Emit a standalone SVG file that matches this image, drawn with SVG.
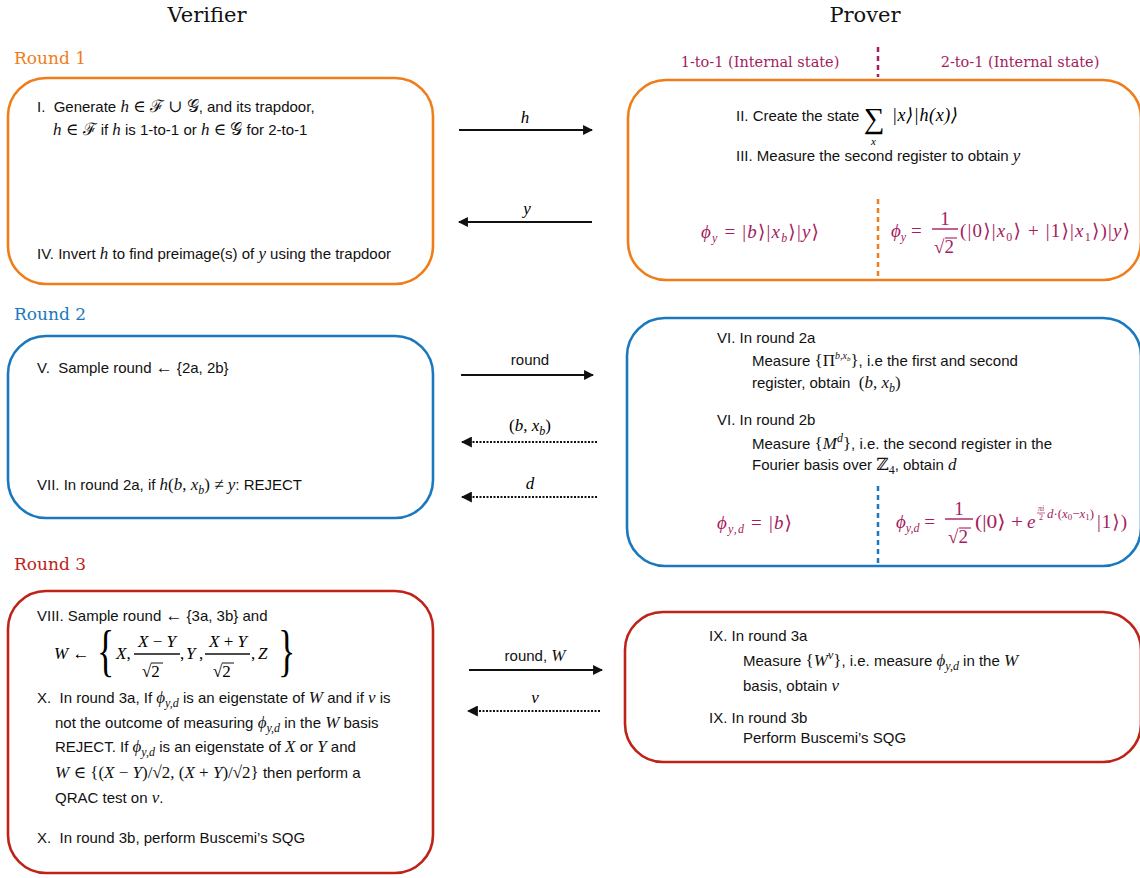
<svg xmlns="http://www.w3.org/2000/svg" width="1140" height="878" viewBox="0 0 1140 878">
<style>
.bg{fill:#fff}
.box{fill:#fff;stroke-width:2.6}
.or{stroke:#F07D19}
.bl{stroke:#1B78BE}
.rd{stroke:#BE2318}
.hd{font-family:"DejaVu Serif","Liberation Serif",serif;font-size:21px;fill:#111}
.rn{font-family:"DejaVu Serif","Liberation Serif",serif;font-size:17px}
.st{font-family:"DejaVu Serif","Liberation Serif",serif;font-size:14.5px;fill:#A41C5E}
.t{font-family:"Liberation Sans",Arial,sans-serif;font-size:15px;fill:#111}
.m{font-family:"Liberation Serif","DejaVu Serif",serif;font-style:italic;font-size:17px}
.r{font-family:"Liberation Serif","DejaVu Serif",serif;font-style:normal;font-size:17px}
.pm{font-family:"Liberation Serif","DejaVu Serif",serif;font-size:19px;fill:#A41C5E}
.sub{font-size:12px}
.ln{stroke:#111;stroke-width:1.8;fill:none}
.dot{stroke:#111;stroke-width:2;fill:none;stroke-dasharray:2 1.5}
.fb{stroke-width:1.3}
</style>
<defs>
<marker id="ah" viewBox="0 0 10 10" refX="9" refY="5" markerWidth="5.5" markerHeight="5.5" orient="auto" markerUnits="strokeWidth">
<path d="M0,0 L10,5 L0,10 z" fill="#111"/>
</marker>
</defs>
<rect class="bg" x="0" y="0" width="1140" height="878"/>

<g id="headers">
<text class="hd" x="207" y="22" text-anchor="middle">Verifier</text>
<text class="hd" x="865" y="22" text-anchor="middle">Prover</text>
<text class="rn" x="14" y="64" fill="#F07D19">Round 1</text>
<text class="rn" x="14" y="320" fill="#1B78BE">Round 2</text>
<text class="rn" x="14" y="570" fill="#BE2318">Round 3</text>
<text class="st" x="760" y="67" text-anchor="middle">1-to-1 (Internal state)</text>
<text class="st" x="1020" y="67" text-anchor="middle">2-to-1 (Internal state)</text>
<line x1="878" y1="47" x2="878" y2="77" stroke="#A41C5E" stroke-width="2.5" stroke-dasharray="5 4"/>
</g>

<g id="v1">
<rect class="box or" x="8" y="78" width="425" height="206" rx="38"/>
<text class="t" x="37" y="112">I.&#160; Generate <tspan class="m">h</tspan> <tspan class="r">∈ ℱ ∪ 𝒢</tspan>, and its trapdoor,</text>
<text class="t" x="53" y="135"><tspan class="m">h</tspan> <tspan class="r">∈ ℱ</tspan> if <tspan class="m">h</tspan> is 1-to-1 or <tspan class="m">h</tspan> <tspan class="r">∈ 𝒢</tspan> for 2-to-1</text>
<text class="t" x="37" y="259">IV. Invert <tspan class="m">h</tspan> to find preimage(s) of <tspan class="m">y</tspan> using the trapdoor</text>
</g>

<g id="p1">
<rect class="box or" x="628" y="80" width="513" height="200" rx="38"/>
<text class="t" x="736" y="121">II. Create the state</text>
<text class="r" x="864" y="128" style="font-size:29px">∑</text>
<text class="m" x="871" y="145" style="font-size:11px">x</text>
<text class="m" x="892" y="121" style="font-size:18px" textLength="66">|x⟩|h(x)⟩</text>
<text class="t" x="736" y="161">III. Measure the second register to obtain <tspan class="m">y</tspan></text>
<line x1="878" y1="199" x2="878" y2="279" stroke="#F07D19" stroke-width="2.5" stroke-dasharray="5 4"/>
<text class="pm" x="701" y="238" textLength="118"><tspan font-style="italic">ϕ</tspan><tspan class="sub" font-style="italic" dy="4">y</tspan><tspan dy="-4"> = |</tspan><tspan font-style="italic">b</tspan>⟩|<tspan font-style="italic">x</tspan><tspan class="sub" font-style="italic" dy="4">b</tspan><tspan dy="-4">⟩|</tspan><tspan font-style="italic">y</tspan>⟩</text>
<text class="pm" x="891" y="237"><tspan font-style="italic">ϕ</tspan><tspan class="sub" font-style="italic" dy="4">y</tspan><tspan dy="-4"> =</tspan></text>
<text class="pm" x="945" y="225" text-anchor="middle">1</text>
<line x1="932" y1="229" x2="958" y2="229" stroke="#A41C5E" stroke-width="1.4"/>
<text class="pm" x="934" y="253">√2</text>
<line x1="945" y1="238" x2="957" y2="238" stroke="#A41C5E" stroke-width="1.1"/>
<text class="pm" x="960" y="237" textLength="170">(|0⟩|<tspan font-style="italic">x</tspan><tspan class="sub" dy="4">0</tspan><tspan dy="-4">⟩ + |1⟩|</tspan><tspan font-style="italic">x</tspan><tspan class="sub" dy="4">1</tspan><tspan dy="-4">⟩)|</tspan><tspan font-style="italic">y</tspan>⟩</text>
</g>

<g id="v2">
<rect class="box bl" x="8" y="336" width="425" height="182" rx="38"/>
<text class="t" x="37" y="373">V.&#160; Sample round <tspan class="r">←</tspan> {2a, 2b}</text>
<text class="t" x="37" y="490">VII. In round 2a, if <tspan class="m">h</tspan><tspan class="r">(</tspan><tspan class="m">b</tspan><tspan class="r">, </tspan><tspan class="m">x</tspan><tspan class="m sub" dy="4">b</tspan><tspan class="r" dy="-4">) ≠ </tspan><tspan class="m">y</tspan>: REJECT</text>
</g>

<g id="p2">
<rect class="box bl" x="627" y="318" width="514" height="248" rx="38"/>
<text class="t" x="717" y="343">VI. In round 2a</text>
<text class="t" x="752" y="366">Measure <tspan class="r">{Π</tspan><tspan class="m" style="font-size:10px" dy="-7">b,x</tspan><tspan class="m" style="font-size:7px" dy="2">b</tspan><tspan class="r" dy="5">}</tspan>, i.e the first and second</text>
<text class="t" x="752" y="388">register, obtain&#160; <tspan class="r">(</tspan><tspan class="m">b</tspan><tspan class="r">, </tspan><tspan class="m">x</tspan><tspan class="m sub" dy="4">b</tspan><tspan class="r" dy="-4">)</tspan></text>
<text class="t" x="717" y="425">VI. In round 2b</text>
<text class="t" x="752" y="449">Measure <tspan class="r">{</tspan><tspan class="m">M</tspan><tspan class="m" style="font-size:12px" dy="-7">d</tspan><tspan class="r" dy="7">}</tspan>, i.e. the second register in the</text>
<text class="t" x="752" y="470">Fourier basis over <tspan class="r">ℤ</tspan><tspan class="r sub" dy="4">4</tspan><tspan dy="-4">, obtain </tspan><tspan class="m">d</tspan></text>
<line x1="878" y1="486" x2="878" y2="566" stroke="#1B78BE" stroke-width="2.5" stroke-dasharray="5 4"/>
<text class="pm" x="717" y="529" textLength="75"><tspan font-style="italic">ϕ</tspan><tspan class="sub" font-style="italic" dy="4">y,d</tspan><tspan dy="-4"> = |</tspan><tspan font-style="italic">b</tspan>⟩</text>
<text class="pm" x="896" y="528"><tspan font-style="italic">ϕ</tspan><tspan class="sub" font-style="italic" dy="4">y,d</tspan><tspan dy="-4"> =</tspan></text>
<text class="pm" x="959" y="515" text-anchor="middle">1</text>
<line x1="945" y1="519" x2="973" y2="519" stroke="#A41C5E" stroke-width="1.4"/>
<text class="pm" x="948" y="543">√2</text>
<line x1="959" y1="528" x2="971" y2="528" stroke="#A41C5E" stroke-width="1.1"/>
<text class="pm" x="975" y="528" textLength="48" lengthAdjust="spacingAndGlyphs">(|0⟩ +</text>
<text class="pm" x="1027" y="528" font-style="italic">e</text>
<text class="pm" x="1041" y="511" text-anchor="middle" style="font-size:8px" font-style="italic">πi</text>
<line x1="1037" y1="513" x2="1045" y2="513" stroke="#A41C5E" stroke-width="0.7"/>
<text class="pm" x="1041" y="520" text-anchor="middle" style="font-size:8px">2</text>
<text class="pm" x="1047" y="518" style="font-size:13px" textLength="47" lengthAdjust="spacingAndGlyphs"><tspan font-style="italic">d</tspan>·(<tspan font-style="italic">x</tspan><tspan style="font-size:9px" dy="2">0</tspan><tspan dy="-2">−</tspan><tspan font-style="italic">x</tspan><tspan style="font-size:9px" dy="2">1</tspan><tspan dy="-2">)</tspan></text>
<text class="pm" x="1097" y="528" textLength="30">|1⟩)</text>
</g>

<g id="v3">
<rect class="box rd" x="8" y="591" width="425" height="282" rx="38"/>
<text class="t" x="37" y="621">VIII. Sample round <tspan class="r">←</tspan> {3a, 3b} and</text>
<text class="m" x="54" y="659">W <tspan class="r">←</tspan></text>
<text class="r" transform="translate(97 670) scale(0.62 1)" style="font-size:58px">{</text>
<text class="m" x="116" y="659">X<tspan class="r">,</tspan></text>
<text class="m" x="157" y="647" text-anchor="middle">X <tspan class="r">−</tspan> Y</text>
<line x1="134" y1="654" x2="180" y2="654" class="ln fb"/>
<text class="r" x="142" y="677">√2</text>
<line x1="151" y1="663" x2="163" y2="663" stroke="#111" stroke-width="1"/>
<text class="r" x="180" y="659">,</text>
<text class="m" x="186" y="659">Y</text>
<text class="r" x="199" y="659">,</text>
<text class="m" x="228" y="647" text-anchor="middle">X <tspan class="r">+</tspan> Y</text>
<line x1="205" y1="654" x2="250" y2="654" class="ln fb"/>
<text class="r" x="213" y="677">√2</text>
<line x1="222" y1="663" x2="234" y2="663" stroke="#111" stroke-width="1"/>
<text class="r" x="251" y="659">,</text>
<text class="m" x="258" y="659">Z</text>
<text class="r" transform="translate(278 670) scale(0.62 1)" style="font-size:58px">}</text>
<text class="t" x="37" y="703">X.&#160; In round 3a, If <tspan class="m">ϕ</tspan><tspan class="m sub" dy="4">y,d</tspan><tspan dy="-4"> is an eigenstate of </tspan><tspan class="m">W</tspan> and if <tspan class="m">v</tspan> is</text>
<text class="t" x="55" y="728">not the outcome of measuring <tspan class="m">ϕ</tspan><tspan class="m sub" dy="4">y,d</tspan><tspan dy="-4"> in the </tspan><tspan class="m">W</tspan> basis</text>
<text class="t" x="55" y="752">REJECT. If <tspan class="m">ϕ</tspan><tspan class="m sub" dy="4">y,d</tspan><tspan dy="-4"> is an eigenstate of </tspan><tspan class="m">X</tspan> or <tspan class="m">Y</tspan> and</text>
<text class="t" x="55" y="778"><tspan class="m">W</tspan><tspan class="r"> ∈ {(</tspan><tspan class="m">X</tspan><tspan class="r"> − </tspan><tspan class="m">Y</tspan><tspan class="r">)/√2, (</tspan><tspan class="m">X</tspan><tspan class="r"> + </tspan><tspan class="m">Y</tspan><tspan class="r">)/√2}</tspan> then perform a</text>
<text class="t" x="55" y="803">QRAC test on <tspan class="m">v</tspan>.</text>
<text class="t" x="37" y="843">X.&#160; In round 3b, perform Buscemi’s SQG</text>
</g>

<g id="p3">
<rect class="box rd" x="625" y="612" width="516" height="150" rx="38"/>
<text class="t" x="709" y="641">IX. In round 3a</text>
<text class="t" x="743" y="666">Measure <tspan class="r">{</tspan><tspan class="m">W</tspan><tspan class="m" style="font-size:12px" dy="-7">v</tspan><tspan class="r" dy="7">}</tspan>, i.e. measure <tspan class="m">ϕ</tspan><tspan class="m sub" dy="4">y,d</tspan><tspan dy="-4"> in the </tspan><tspan class="m">W</tspan></text>
<text class="t" x="743" y="691">basis, obtain <tspan class="m">v</tspan></text>
<text class="t" x="709" y="723">IX. In round 3b</text>
<text class="t" x="743" y="743">Perform Buscemi’s SQG</text>
</g>

<g id="connectors">
<line class="ln" x1="459" y1="130" x2="592" y2="130" marker-end="url(#ah)"/>
<text class="m" x="525" y="123" text-anchor="middle">h</text>
<line class="ln" x1="592" y1="222" x2="459" y2="222" marker-end="url(#ah)"/>
<text class="m" x="527" y="214" text-anchor="middle">y</text>
<line class="ln" x1="461" y1="375" x2="593" y2="375" marker-end="url(#ah)"/>
<text class="t" x="530" y="365" text-anchor="middle">round</text>
<line class="dot" x1="597" y1="442" x2="462" y2="442" marker-end="url(#ah)"/>
<text class="r" x="530" y="431" text-anchor="middle">(<tspan class="m">b</tspan>, <tspan class="m">x</tspan><tspan class="m sub" dy="4">b</tspan><tspan dy="-4">)</tspan></text>
<line class="dot" x1="597" y1="497" x2="462" y2="497" marker-end="url(#ah)"/>
<text class="m" x="530" y="489" text-anchor="middle">d</text>
<line class="ln" x1="469" y1="670" x2="602" y2="670" marker-end="url(#ah)"/>
<text class="t" x="535" y="661" text-anchor="middle">round, <tspan class="m">W</tspan></text>
<line class="dot" x1="600" y1="711" x2="468" y2="711" marker-end="url(#ah)"/>
<text class="m" x="535" y="703" text-anchor="middle">v</text>
</g>
</svg>
